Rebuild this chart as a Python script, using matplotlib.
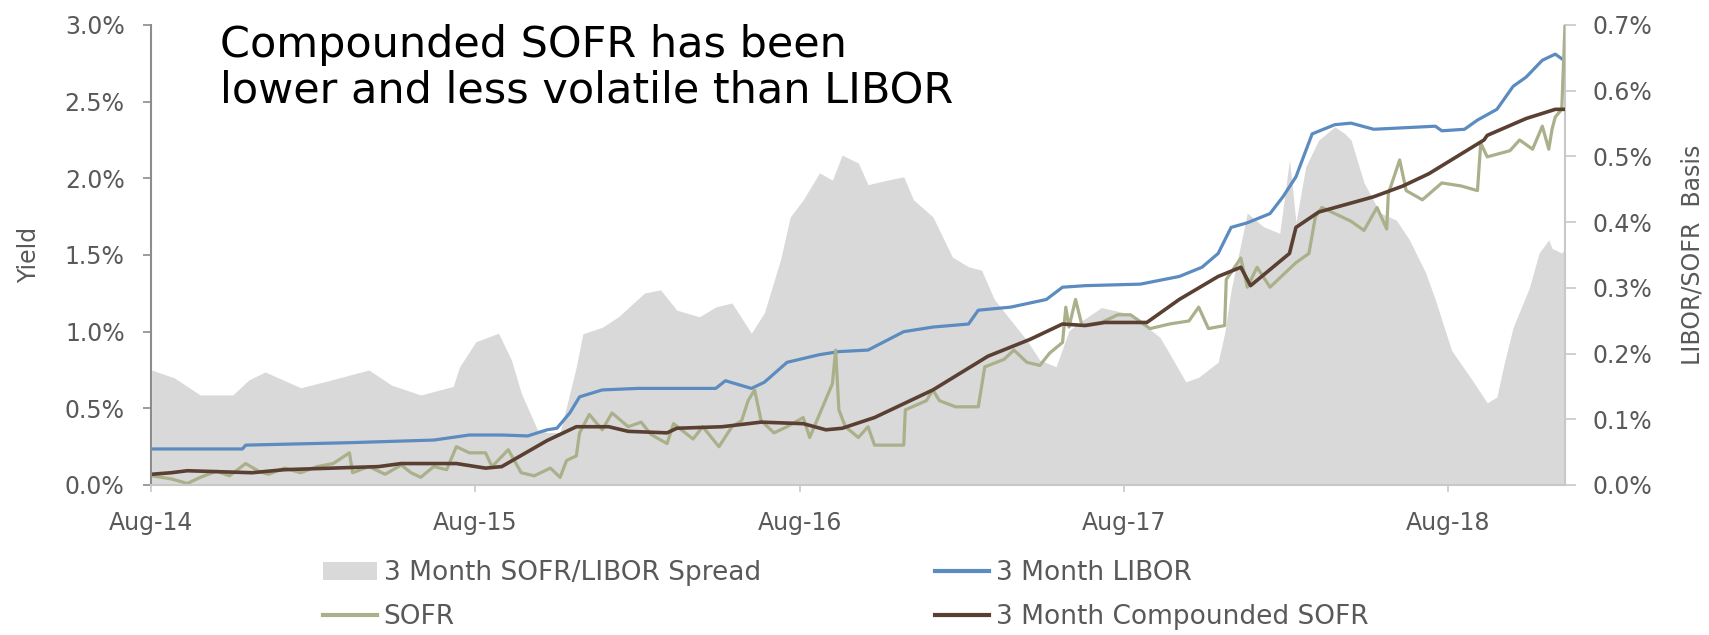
import numpy as np
import pandas as pd
import matplotlib
matplotlib.use("Agg")
import matplotlib.pyplot as plt
import matplotlib.dates as mdates
from matplotlib.patches import Patch
from matplotlib.lines import Line2D

# x positions are decimal years, values in percent
libor_t = [2014.64, 2014.92, 2014.93, 2015.25, 2015.51, 2015.62, 2015.72, 2015.80, 2015.86, 2015.89,
           2015.93, 2015.96, 2016.03, 2016.14, 2016.38, 2016.41, 2016.49, 2016.53, 2016.60, 2016.70,
           2016.76, 2016.85, 2016.96, 2017.05, 2017.16, 2017.19, 2017.29, 2017.40, 2017.45, 2017.52,
           2017.69, 2017.81, 2017.88, 2017.93, 2017.97, 2018.02, 2018.09, 2018.13, 2018.17, 2018.22,
           2018.29, 2018.34, 2018.41, 2018.60, 2018.62, 2018.69, 2018.73, 2018.79, 2018.84, 2018.88,
           2018.93, 2018.97, 2018.99]
libor = [0.235, 0.235, 0.26, 0.276, 0.293, 0.326, 0.326, 0.32, 0.36, 0.37,
         0.47, 0.575, 0.62, 0.63, 0.63, 0.68, 0.63, 0.67, 0.80, 0.85,
         0.87, 0.88, 1.00, 1.03, 1.05, 1.14, 1.16, 1.21, 1.29, 1.30,
         1.31, 1.36, 1.42, 1.51, 1.68, 1.71, 1.77, 1.88, 2.01, 2.29,
         2.35, 2.36, 2.32, 2.34, 2.31, 2.32, 2.38, 2.45, 2.60, 2.66,
         2.77, 2.81, 2.78]

comp_t = [2014.64, 2014.70, 2014.75, 2014.95, 2015.05, 2015.34, 2015.41, 2015.58, 2015.67, 2015.72,
          2015.86, 2015.95, 2016.05, 2016.11, 2016.23, 2016.26, 2016.40, 2016.52, 2016.65, 2016.72,
          2016.77, 2016.87, 2017.05, 2017.22, 2017.35, 2017.45, 2017.52, 2017.58, 2017.71, 2017.81,
          2017.93, 2018.00, 2018.03, 2018.15, 2018.17, 2018.24, 2018.41, 2018.50, 2018.58, 2018.75,
          2018.76, 2018.88, 2018.97, 2019.00]
comp_sofr = [0.07, 0.08, 0.093, 0.08, 0.10, 0.12, 0.14, 0.14, 0.11, 0.12,
             0.29, 0.38, 0.38, 0.35, 0.34, 0.37, 0.38, 0.41, 0.40, 0.36,
             0.37, 0.44, 0.62, 0.84, 0.95, 1.05, 1.04, 1.06, 1.06, 1.21,
             1.36, 1.42, 1.30, 1.51, 1.68, 1.78, 1.88, 1.95, 2.03, 2.25,
             2.28, 2.39, 2.45, 2.45]

sofr_t = [2014.64, 2014.70, 2014.75, 2014.79, 2014.84, 2014.88, 2014.93, 2014.97, 2015.00, 2015.05,
          2015.10, 2015.15, 2015.20, 2015.25, 2015.26, 2015.31, 2015.36, 2015.41, 2015.44, 2015.47,
          2015.51, 2015.55, 2015.58, 2015.62, 2015.67, 2015.69, 2015.74, 2015.78, 2015.82, 2015.87,
          2015.90, 2015.92, 2015.95, 2015.96, 2015.99, 2016.03, 2016.06, 2016.11, 2016.15, 2016.18,
          2016.23, 2016.25, 2016.31, 2016.34, 2016.39, 2016.43, 2016.46, 2016.48, 2016.50, 2016.52,
          2016.56, 2016.60, 2016.65, 2016.67, 2016.74, 2016.75, 2016.76, 2016.78, 2016.82, 2016.85,
          2016.87, 2016.96, 2016.965, 2017.03, 2017.05, 2017.07, 2017.12, 2017.19, 2017.21, 2017.27,
          2017.30, 2017.34, 2017.38, 2017.41, 2017.45, 2017.46, 2017.47, 2017.49, 2017.51, 2017.57,
          2017.62, 2017.66, 2017.72, 2017.78, 2017.84, 2017.87, 2017.90, 2017.95, 2017.955, 2018.00,
          2018.02, 2018.05, 2018.09, 2018.17, 2018.21, 2018.23, 2018.25, 2018.34, 2018.38, 2018.42,
          2018.45, 2018.455, 2018.49, 2018.51, 2018.56, 2018.62, 2018.68, 2018.73, 2018.74, 2018.76,
          2018.83, 2018.86, 2018.90, 2018.93, 2018.95, 2018.96, 2018.97, 2018.99, 2019.00]
sofr = [0.06, 0.04, 0.01, 0.05, 0.09, 0.06, 0.14, 0.09, 0.07, 0.11,
        0.08, 0.12, 0.14, 0.21, 0.08, 0.12, 0.07, 0.13, 0.08, 0.05,
        0.12, 0.10, 0.25, 0.21, 0.21, 0.12, 0.23, 0.08, 0.06, 0.11,
        0.05, 0.16, 0.19, 0.34, 0.46, 0.36, 0.47, 0.38, 0.41, 0.33,
        0.27, 0.40, 0.30, 0.38, 0.25, 0.38, 0.42, 0.55, 0.62, 0.42,
        0.34, 0.38, 0.44, 0.31, 0.66, 0.88, 0.49, 0.38, 0.31, 0.38,
        0.26, 0.26, 0.49, 0.55, 0.62, 0.55, 0.51, 0.51, 0.77, 0.82,
        0.88, 0.80, 0.78, 0.86, 0.93, 1.16, 1.03, 1.21, 1.04, 1.06,
        1.11, 1.11, 1.02, 1.05, 1.07, 1.16, 1.02, 1.04, 1.34, 1.48,
        1.29, 1.42, 1.29, 1.45, 1.51, 1.75, 1.81, 1.72, 1.66, 1.81,
        1.67, 1.90, 2.12, 1.92, 1.86, 1.97, 1.95, 1.92, 2.23, 2.14,
        2.18, 2.25, 2.19, 2.34, 2.19, 2.32, 2.40, 2.45, 3.00]

spread_t = [2014.64, 2014.71, 2014.79, 2014.89, 2014.94, 2014.99, 2015.10, 2015.18, 2015.31, 2015.38,
            2015.47, 2015.57, 2015.59, 2015.64, 2015.71, 2015.75, 2015.78, 2015.83, 2015.86, 2015.90,
            2015.95, 2015.97, 2016.03, 2016.08, 2016.16, 2016.21, 2016.26, 2016.33, 2016.38, 2016.43,
            2016.49, 2016.53, 2016.58, 2016.61, 2016.65, 2016.70, 2016.74, 2016.77, 2016.82, 2016.85,
            2016.91, 2016.96, 2016.99, 2017.05, 2017.11, 2017.16, 2017.20, 2017.24, 2017.29, 2017.34,
            2017.38, 2017.43, 2017.47, 2017.51, 2017.57, 2017.66, 2017.75, 2017.78, 2017.83, 2017.87,
            2017.93, 2017.95, 2017.97, 2018.02, 2018.07, 2018.12, 2018.15, 2018.17, 2018.20, 2018.24,
            2018.29, 2018.32, 2018.34, 2018.38, 2018.43, 2018.48, 2018.52, 2018.57, 2018.60, 2018.65,
            2018.72, 2018.76, 2018.79, 2018.81, 2018.84, 2018.89, 2018.92, 2018.95, 2018.96, 2018.99,
            2019.00]
spread = [0.175, 0.163, 0.137, 0.137, 0.16, 0.172, 0.148, 0.158, 0.175, 0.152,
          0.137, 0.15, 0.18, 0.218, 0.231, 0.19, 0.14, 0.084, 0.08, 0.08,
          0.18, 0.23, 0.24, 0.256, 0.292, 0.297, 0.266, 0.256, 0.271, 0.277,
          0.231, 0.262, 0.343, 0.408, 0.434, 0.475, 0.464, 0.502, 0.49, 0.457,
          0.464, 0.469, 0.434, 0.408, 0.347, 0.332, 0.327, 0.282, 0.251, 0.22,
          0.19, 0.18, 0.235, 0.25, 0.27, 0.26, 0.225, 0.20, 0.157, 0.164,
          0.187, 0.231, 0.297, 0.414, 0.393, 0.383, 0.495, 0.40, 0.484, 0.525,
          0.545, 0.535, 0.525, 0.46, 0.414, 0.403, 0.373, 0.323, 0.282, 0.205,
          0.155, 0.125, 0.134, 0.18, 0.24, 0.30, 0.353, 0.373, 0.36, 0.353,
          0.36]

year_ticks = [2014, 2015, 2016, 2017, 2018]


def to_dates(years):
    y = np.asarray(years, dtype=float)
    return pd.Timestamp("2014-01-01") + pd.to_timedelta((y - 2014) * 365.25, unit="D")


grey_txt = "#595959"
plt.rcParams["font.family"] = "DejaVu Sans"

fig = plt.figure(figsize=(17.09, 6.35), dpi=100)
ax = fig.add_axes([151 / 1709, 1 - 485 / 635, (1565 - 151) / 1709, 460 / 635])
ax2 = ax.twinx()

ax2.fill_between(to_dates(spread_t), 0, spread, color="#d9d9d9", lw=0)
ax.plot(to_dates(libor_t), libor, color="#5b8bbf", lw=2.3)
ax.plot(to_dates(sofr_t), sofr, color="#a9b08a", lw=2.3)
ax.plot(to_dates(comp_t), comp_sofr, color="#5a4032", lw=2.6)

ax.set_zorder(ax2.get_zorder() + 1)
ax.patch.set_visible(False)

ax.set_xlim(to_dates([2014.641])[0], to_dates([2019.0])[0])
ax.set_ylim(0, 3.0)
ax2.set_ylim(0, 0.7)

ax.set_xticks([pd.Timestamp(f"{y}-08-22") for y in year_ticks])
ax.xaxis.set_major_formatter(mdates.DateFormatter("%b-%y"))
ax.set_yticks(np.arange(0, 3.01, 0.5))
ax.yaxis.set_major_formatter(plt.FuncFormatter(lambda v, p: f"{v:.1f}%"))
ax2.set_yticks(np.arange(0, 0.71, 0.1))
ax2.yaxis.set_major_formatter(plt.FuncFormatter(lambda v, p: f"{v:.1f}%"))

for a in (ax, ax2):
    a.spines["top"].set_visible(False)
ax.spines["left"].set_color("#8c8c8c")
ax.spines["bottom"].set_color("#c8c8c8")
ax.spines["right"].set_visible(False)
ax2.spines["left"].set_visible(False)
ax2.spines["bottom"].set_visible(False)
ax2.spines["right"].set_color("#c8c8c8")
for s in ("left", "bottom"):
    ax.spines[s].set_linewidth(1.5)
ax2.spines["right"].set_linewidth(1.5)

ax.tick_params(axis="y", colors="#8c8c8c", labelcolor=grey_txt, labelsize=17, length=6, width=1.2, pad=13)
ax.tick_params(axis="x", colors="#c8c8c8", labelcolor=grey_txt, labelsize=17, length=5, width=1.2, pad=14)
ax2.tick_params(axis="y", colors="#c8c8c8", labelcolor=grey_txt, labelsize=17, length=8, width=1.2, pad=12)

fig.text(29 / 1709, 1 - 255 / 635, "Yield", rotation=90, ha="center", va="center",
         fontsize=17, color=grey_txt)
fig.text(1693 / 1709, 1 - 255 / 635, "LIBOR/SOFR  Basis", rotation=90, ha="center", va="center",
         fontsize=17, color=grey_txt)
fig.text(220 / 1709, 1 - 24 / 635, "Compounded SOFR has been\nlower and less volatile than LIBOR",
         ha="left", va="top", fontsize=31, linespacing=1.1, color="black")

handles = [Patch(color="#d9d9d9", lw=0),
           Line2D([], [], color="#a9b08a", lw=3),
           Line2D([], [], color="#5b8bbf", lw=3),
           Line2D([], [], color="#5a4032", lw=3)]
labels = ["3 Month SOFR/LIBOR Spread", "SOFR", "3 Month LIBOR", "3 Month Compounded SOFR"]
leg = fig.legend(handles, labels, ncol=2, loc="upper left", bbox_to_anchor=(323 / 1709, 1 - 560 / 635),
                 frameon=False, fontsize=19, handlelength=2.05, handletextpad=0.25,
                 columnspacing=6.6, labelspacing=0.7, borderaxespad=0, borderpad=0)
for t in leg.get_texts():
    t.set_color(grey_txt)

fig.savefig("out.png", dpi=100)
